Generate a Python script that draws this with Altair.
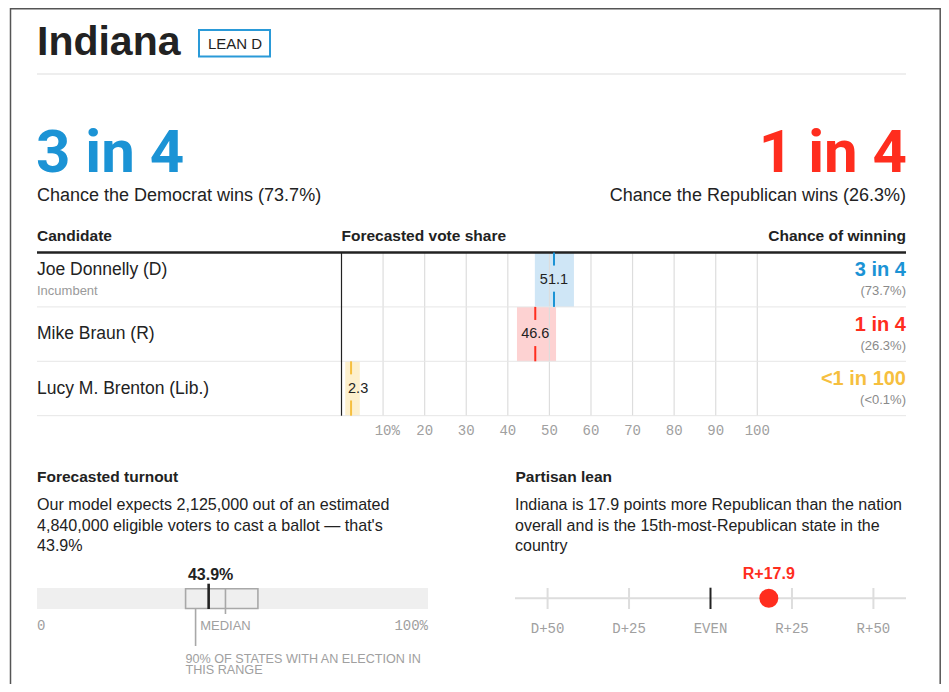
import altair as alt
import pandas as pd

# ---------------- data ----------------
state = "Indiana"
rating = "LEAN D"
dem_odds = "3 in 4"
dem_caption = "Chance the Democrat wins (73.7%)"
rep_odds = "1 in 4"
rep_caption = "Chance the Republican wins (26.3%)"
headers = ["Candidate", "Forecasted vote share", "Chance of winning"]

candidates = ["Joe Donnelly (D)", "Mike Braun (R)", "Lucy M. Brenton (Lib.)"]
notes = ["Incumbent", "", ""]
parties = ["D", "R", "L"]
vote_median = [51.1, 46.6, 2.3]
vote_low = [46.5, 42.2, 0.9]
vote_high = [55.9, 51.6, 4.4]
win_odds = ["3 in 4", "1 in 4", "<1 in 100"]
win_pct = ["(73.7%)", "(26.3%)", "(<0.1%)"]

vote_ticks = [10, 20, 30, 40, 50, 60, 70, 80, 90, 100]
vote_tick_labels = ["10", "20", "30", "40", "50", "60", "70", "80", "90", "100"]

turnout_title = "Forecasted turnout"
turnout_text = ("Our model expects 2,125,000 out of an estimated\n"
                "4,840,000 eligible voters to cast a ballot \u2014 that's\n43.9%")
turnout = [43.9]
turnout_label = ["43.9%"]
turnout_range_low = [38.0]
turnout_range_high = [56.5]
turnout_median = [48.2]
turnout_ends = [0, 100]
turnout_end_labels = ["0", "100%"]
turnout_range_note = "90% OF STATES WITH AN ELECTION IN\nTHIS RANGE"

lean_title = "Partisan lean"
lean_text = ("Indiana is 17.9 points more Republican than the nation\n"
             "overall and is the 15th-most-Republican state in the\ncountry")
lean = [17.9]
lean_label = ["R+17.9"]
lean_ticks = [-50, -25, 0, 25, 50]
lean_tick_labels = ["D+50", "D+25", "EVEN", "R+25", "R+50"]
lean_extent = [-60, 60]

# ---------------- style ----------------
SANS = "Liberation Sans, Arial, sans-serif"
BIG = "Roboto, Liberation Sans, sans-serif"
MONO = "Liberation Mono, DejaVu Sans Mono, monospace"
INK = "#222222"
BLUE = "#1b93d5"
RED = "#ff2d1e"
YELLOW = "#f6bf3f"
LIGHT = ["#cfe6f6", "#fdd2d2", "#fdf0cd"]
DARK = [BLUE, RED, YELLOW]
GREY_T = "#a0a0a0"
GRID = "#dddddd"

W, H = 933, 676
L, R = 29, 898

VX = alt.Scale(domain=[0, 100], range=[333.5, 749.3], nice=False, zero=False)
ROWY = alt.Scale(domain=[0, 3], range=[244.5, 407.7], nice=False, zero=False)
TX = alt.Scale(domain=[0, 100], range=[29, 420], nice=False, zero=False)
LX = alt.Scale(domain=lean_extent, range=[507, 898], nice=False, zero=False)

one = pd.DataFrame({"t": [""]})


def label(text, x, y, size=16, weight="normal", color=INK, align="left",
          font=SANS, baseline="middle", **kw):
    df = pd.DataFrame({"t": [text]})
    return alt.Chart(df).mark_text(
        align=align, baseline=baseline, fontSize=size, fontWeight=weight,
        color=color, font=font, **kw
    ).encode(x=alt.value(x), y=alt.value(y), text="t:N")


def hrule(x, x2, y, color, width):
    return alt.Chart(one).mark_rule(color=color, strokeWidth=width).encode(
        x=alt.value(x), x2=alt.value(x2), y=alt.value(y))


layers = []

# frame
layers.append(alt.Chart(one).mark_rect(fill=None, stroke="#555555", strokeWidth=1.5).encode(
    x=alt.value(2.5), x2=alt.value(932.2), y=alt.value(0.75), y2=alt.value(760)))

# title block
layers.append(label(state, L, 47, size=41, weight="bold", baseline="alphabetic"))
layers.append(alt.Chart(one).mark_rect(fill="white", stroke="#2a9ad8", strokeWidth=2).encode(
    x=alt.value(191), x2=alt.value(262), y=alt.value(22), y2=alt.value(48.5)))
layers.append(label(rating, 227, 35.5, size=15, align="center"))
layers.append(hrule(L, R, 66, "#dddddd", 1))

layers.append(label(dem_odds, L - 1, 163.5, size=60, weight="bold", color=BLUE,
                    font=BIG, baseline="alphabetic"))
layers.append(label(dem_caption, L, 192.5, size=18, baseline="alphabetic"))
layers.append(label(rep_odds, R + 1, 163.5, size=60, weight="bold", color=RED,
                    font=BIG, baseline="alphabetic", align="right"))
layers.append(label(rep_caption, R, 192.5, size=18, baseline="alphabetic", align="right"))

# table headers
layers.append(label(headers[0], L, 233, size=15.5, weight="bold", baseline="alphabetic"))
layers.append(label(headers[1], 333.5, 233, size=15.5, weight="bold", baseline="alphabetic"))
layers.append(label(headers[2], R, 233, size=15.5, weight="bold", baseline="alphabetic", align="right"))

rows_df = pd.DataFrame({
    "i": list(range(len(candidates))),
    "cand": candidates, "note": notes, "party": parties,
    "median": vote_median, "low": vote_low, "high": vote_high,
    "odds": win_odds, "pct": win_pct,
})
rows = alt.Chart(rows_df)
light_c = alt.Color("party:N", scale=alt.Scale(domain=parties, range=LIGHT), legend=None)
dark_c = alt.Color("party:N", scale=alt.Scale(domain=parties, range=DARK), legend=None)

# bands
layers.append(rows.mark_rect().transform_calculate(a="datum.i", b="datum.i + 1").encode(
    x=alt.X("low:Q", scale=VX, axis=None), x2="high:Q",
    y=alt.Y("a:Q", scale=ROWY, axis=None), y2="b:Q", color=light_c))

# grid lines
tick_df = pd.DataFrame({"v": vote_ticks, "lab": vote_tick_labels})
layers.append(alt.Chart(tick_df).mark_rule(color=GRID, strokeWidth=1.2)
              .transform_calculate(a="0", b="3").encode(
    x=alt.X("v:Q", scale=VX, axis=None),
    y=alt.Y("a:Q", scale=ROWY, axis=None), y2="b:Q"))

# row separators
sep_df = pd.DataFrame({"r": [1, 2, 3]})
layers.append(alt.Chart(sep_df).mark_rule(color="#e6e6e6", strokeWidth=1).encode(
    x=alt.value(L), x2=alt.value(R), y=alt.Y("r:Q", scale=ROWY, axis=None)))

# zero line
layers.append(alt.Chart(one).mark_rule(color=INK, strokeWidth=1.2)
              .transform_calculate(v="0", a="0", b="3").encode(
    x=alt.X("v:Q", scale=VX, axis=None),
    y=alt.Y("a:Q", scale=ROWY, axis=None), y2="b:Q"))

# header line
layers.append(alt.Chart(one).mark_rule(color=INK, strokeWidth=2.5)
              .transform_calculate(a="0").encode(
    x=alt.value(L), x2=alt.value(R), y=alt.Y("a:Q", scale=ROWY, axis=None)))

# median segments
layers.append(rows.mark_rule(strokeWidth=2).transform_calculate(a="datum.i", b="datum.i + 0.24").encode(
    x=alt.X("median:Q", scale=VX, axis=None),
    y=alt.Y("a:Q", scale=ROWY, axis=None), y2="b:Q", color=dark_c))
layers.append(rows.mark_rule(strokeWidth=2).transform_calculate(a="datum.i + 0.72", b="datum.i + 1").encode(
    x=alt.X("median:Q", scale=VX, axis=None),
    y=alt.Y("a:Q", scale=ROWY, axis=None), y2="b:Q", color=dark_c))

# median labels
layers.append(rows.mark_text(fontSize=14.5, font=SANS, color=INK, baseline="middle")
              .transform_calculate(lx="max(datum.median, 4)", ym="datum.i + 0.5").encode(
    x=alt.X("lx:Q", scale=VX, axis=None),
    y=alt.Y("ym:Q", scale=ROWY, axis=None),
    text=alt.Text("median:Q", format=".1f")))

# candidate names
layers.append(rows.mark_text(fontSize=17.5, font=SANS, color=INK, align="left", baseline="middle")
              .transform_calculate(ny="datum.note ? datum.i + 0.32 : datum.i + 0.5").encode(
    x=alt.value(L), y=alt.Y("ny:Q", scale=ROWY, axis=None), text="cand:N"))
layers.append(rows.mark_text(fontSize=13, font=SANS, color="#9a9a9a", align="left", baseline="middle")
              .transform_calculate(ny="datum.i + 0.71").encode(
    x=alt.value(L), y=alt.Y("ny:Q", scale=ROWY, axis=None), text="note:N"))

# chance of winning
layers.append(rows.mark_text(fontSize=20, fontWeight="bold", font=SANS, align="right", baseline="middle")
              .transform_calculate(ny="datum.i + 0.33").encode(
    x=alt.value(R), y=alt.Y("ny:Q", scale=ROWY, axis=None), text="odds:N", color=dark_c))
layers.append(rows.mark_text(fontSize=13, font=SANS, color="#8a8a8a", align="right", baseline="middle")
              .transform_calculate(ny="datum.i + 0.71").encode(
    x=alt.value(R), y=alt.Y("ny:Q", scale=ROWY, axis=None), text="pct:N"))

# vote share tick labels
layers.append(alt.Chart(tick_df).mark_text(fontSize=14, font=MONO, color=GREY_T, baseline="middle").encode(
    x=alt.X("v:Q", scale=VX, axis=None), y=alt.value(423), text="lab:N"))
layers.append(alt.Chart(tick_df.head(1)).mark_text(fontSize=14, font=MONO, color=GREY_T,
                                                   baseline="middle", align="left", dx=8.5).encode(
    x=alt.X("v:Q", scale=VX, axis=None), y=alt.value(423), text=alt.value("%")))

# ---------------- turnout ----------------
layers.append(label(turnout_title, L, 468.7, size=15.5, weight="bold"))
layers.append(label(turnout_text, L, 497, size=16.1, lineBreak="\n", lineHeight=20.5))

t_df = pd.DataFrame({"v": turnout, "lab": turnout_label, "lo": turnout_range_low,
                     "hi": turnout_range_high, "med": turnout_median})
ends_df = pd.DataFrame({"v": turnout_ends, "lab": turnout_end_labels})
layers.append(alt.Chart(ends_df).mark_rect(color="#efefef").transform_aggregate(
    a="min(v)", b="max(v)").encode(
    x=alt.X("a:Q", scale=TX, axis=None), x2="b:Q", y=alt.value(580), y2=alt.value(601)))
layers.append(alt.Chart(t_df).mark_rect(fill=None, stroke="#a8a8a8", strokeWidth=1.6).encode(
    x=alt.X("lo:Q", scale=TX, axis=None), x2="hi:Q", y=alt.value(580.7), y2=alt.value(600.5)))
layers.append(alt.Chart(t_df).mark_rule(color="#a8a8a8", strokeWidth=1.6).encode(
    x=alt.X("med:Q", scale=TX, axis=None), y=alt.value(580.7), y2=alt.value(606)))
layers.append(alt.Chart(t_df).mark_rule(color="#a8a8a8", strokeWidth=1.6, xOffset=10).encode(
    x=alt.X("lo:Q", scale=TX, axis=None), y=alt.value(600.5), y2=alt.value(638)))
layers.append(alt.Chart(t_df).mark_rule(color=INK, strokeWidth=2.6).encode(
    x=alt.X("v:Q", scale=TX, axis=None), y=alt.value(575.7), y2=alt.value(601)))
layers.append(alt.Chart(t_df).mark_text(fontSize=16, fontWeight="bold", font=SANS, color=INK,
                                        baseline="middle", dx=2).encode(
    x=alt.X("v:Q", scale=TX, axis=None), y=alt.value(567), text="lab:N"))
layers.append(alt.Chart(t_df).mark_text(fontSize=13, font=SANS, color=GREY_T, baseline="middle").encode(
    x=alt.X("med:Q", scale=TX, axis=None), y=alt.value(617.7), text=alt.value("MEDIAN")))
layers.append(alt.Chart(t_df).mark_text(fontSize=12.6, font=SANS, color=GREY_T, baseline="middle",
                                        align="left", lineBreak="\n", lineHeight=11).encode(
    x=alt.X("lo:Q", scale=TX, axis=None), y=alt.value(651), text=alt.value(turnout_range_note)))
layers.append(alt.Chart(ends_df).mark_text(fontSize=14, font=MONO, color=GREY_T, baseline="middle",
                                           align="left").transform_filter("datum.v == 0").encode(
    x=alt.X("v:Q", scale=TX, axis=None), y=alt.value(617.5), text="lab:N"))
layers.append(alt.Chart(ends_df).mark_text(fontSize=14, font=MONO, color=GREY_T, baseline="middle",
                                           align="right").transform_filter("datum.v != 0").encode(
    x=alt.X("v:Q", scale=TX, axis=None), y=alt.value(617.5), text="lab:N"))

# ---------------- partisan lean ----------------
layers.append(label(lean_title, 507.5, 468.7, size=15.5, weight="bold"))
layers.append(label(lean_text, 507, 497, size=16, lineBreak="\n", lineHeight=20.5))

ext_df = pd.DataFrame({"v": lean_extent})
layers.append(alt.Chart(ext_df).mark_rule(color=GRID, strokeWidth=2).transform_aggregate(
    a="min(v)", b="max(v)").encode(
    x=alt.X("a:Q", scale=LX, axis=None), x2="b:Q", y=alt.value(590.3)))
lt_df = pd.DataFrame({"v": lean_ticks, "lab": lean_tick_labels})
layers.append(alt.Chart(lt_df).mark_rule(color=GRID, strokeWidth=2).transform_filter("datum.v != 0").encode(
    x=alt.X("v:Q", scale=LX, axis=None), y=alt.value(580), y2=alt.value(601)))
layers.append(alt.Chart(lt_df).mark_rule(color=INK, strokeWidth=2).transform_filter("datum.v == 0").encode(
    x=alt.X("v:Q", scale=LX, axis=None), y=alt.value(579.7), y2=alt.value(601)))
layers.append(alt.Chart(lt_df).mark_text(fontSize=14, font=MONO, color=GREY_T, baseline="middle").encode(
    x=alt.X("v:Q", scale=LX, axis=None), y=alt.value(621.3), text="lab:N"))
ln_df = pd.DataFrame({"v": lean, "lab": lean_label})
layers.append(alt.Chart(ln_df).mark_circle(size=360, color=RED, opacity=1).encode(
    x=alt.X("v:Q", scale=LX, axis=None), y=alt.value(590.3)))
layers.append(alt.Chart(ln_df).mark_text(fontSize=16, fontWeight="bold", font=SANS, color=RED,
                                         baseline="middle").encode(
    x=alt.X("v:Q", scale=LX, axis=None), y=alt.value(566), text="lab:N"))

chart = alt.layer(*layers).resolve_scale(
    x="independent", y="independent", color="independent"
).properties(
    width=W, height=H, padding=0,
    autosize=alt.AutoSizeParams(type="none"),
    background="white",
).configure_view(stroke=None)

chart.save("out.html", embed_options={"renderer": "svg", "actions": False})
